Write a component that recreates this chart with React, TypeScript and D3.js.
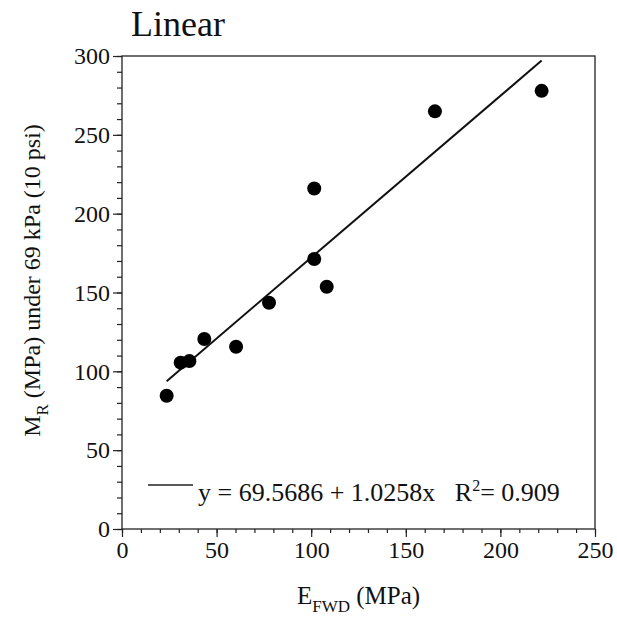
import { useRef, useEffect } from "react";
import * as d3 from "d3";

// E_FWD (MPa) and M_R (MPa)
const eFwd = [23.6, 31.0, 35.6, 43.5, 60.3, 77.7, 101.6, 101.6, 108.2, 165.4, 221.8];
const mR = [84.5, 105.5, 106.5, 120.5, 115.6, 143.5, 216.0, 171.2, 153.6, 264.9, 277.9];

const xTicks = [0, 50, 100, 150, 200, 250];
const yTicks = [0, 50, 100, 150, 200, 250, 300];

const intercept = 69.5686;
const slope = 1.0258;
const r2 = "0.909";

const FONT = "'Liberation Serif', 'Times New Roman', serif";

export default function App() {
  const svgRef = useRef<SVGSVGElement>(null);

  useEffect(() => {
    const width = 617;
    const height = 620;
    const margin = { top: 56, right: 22, bottom: 91, left: 122 };

    const svg = d3.select(svgRef.current)
      .attr("width", width).attr("height", height)
      .attr("font-family", FONT);
    svg.selectAll("*").remove();

    const x = d3.scaleLinear().domain([0, 250]).range([margin.left, width - margin.right]);
    const y = d3.scaleLinear().domain([0, 300]).range([height - margin.bottom, margin.top]);

    // rama
    svg.append("rect")
      .attr("x", x(0)).attr("y", y(300))
      .attr("width", x(250) - x(0)).attr("height", y(0) - y(300))
      .attr("fill", "none").attr("stroke", "#222").attr("stroke-width", 1.3);

    // pienet tikit
    svg.append("g")
      .attr("transform", `translate(0,${y(0)})`)
      .call(d3.axisBottom(x).tickValues(d3.range(0, 251, 10)).tickSize(4).tickFormat(() => ""))
      .call(g => g.select(".domain").remove())
      .call(g => g.selectAll(".tick line").attr("stroke", "#222").attr("stroke-width", 1.2));

    svg.append("g")
      .attr("transform", `translate(${x(0)},0)`)
      .call(d3.axisLeft(y).tickValues(d3.range(0, 301, 10)).tickSize(5).tickFormat(() => ""))
      .call(g => g.select(".domain").remove())
      .call(g => g.selectAll(".tick line").attr("stroke", "#222").attr("stroke-width", 1.2));

    // x-akseli
    svg.append("g")
      .attr("transform", `translate(0,${y(0)})`)
      .call(d3.axisBottom(x).tickValues(xTicks).tickSize(8).tickPadding(4))
      .attr("font-family", null)
      .attr("font-size", null)
      .call(g => g.select(".domain").remove())
      .call(g => g.selectAll(".tick line").attr("stroke", "#222").attr("stroke-width", 1.2))
      .selectAll("text")
        .attr("fill", "#111")
        .style("font-size", "24px");

    // y-akseli
    svg.append("g")
      .attr("transform", `translate(${x(0)},0)`)
      .call(d3.axisLeft(y).tickValues(yTicks).tickSize(9).tickPadding(3))
      .attr("font-family", null)
      .attr("font-size", null)
      .call(g => g.select(".domain").remove())
      .call(g => g.selectAll(".tick line").attr("stroke", "#222").attr("stroke-width", 1.2))
      .selectAll("text")
        .attr("fill", "#111")
        .style("font-size", "24px");

    // regressiosuora
    const [xMin, xMax] = d3.extent(eFwd) as [number, number];
    svg.append("path")
      .datum([xMin, xMax])
      .attr("d", d3.line<number>().x(d => x(d)).y(d => y(intercept + slope * d)))
      .attr("fill", "none")
      .attr("stroke", "#111")
      .attr("stroke-width", 2);

    // pisteet
    svg.append("g")
      .selectAll("circle")
      .data(eFwd)
      .join("circle")
        .attr("cx", d => x(d))
        .attr("cy", (d, i) => y(mR[i]))
        .attr("r", 7)
        .attr("fill", "#000");

    // selite
    svg.append("line")
      .attr("x1", 148).attr("x2", 193)
      .attr("y1", 485).attr("y2", 485)
      .attr("stroke", "#222").attr("stroke-width", 1.5);

    const leg = svg.append("text")
      .attr("x", 198).attr("y", 501)
      .attr("fill", "#111")
      .style("font-size", "26px")
      .attr("xml:space", "preserve");
    leg.append("tspan").text(`y = ${intercept} + ${slope}x   R`);
    leg.append("tspan").attr("dy", -10).style("font-size", "16px").text("2");
    leg.append("tspan").attr("dy", 10).text(`= ${r2}`);

    // otsikko
    svg.append("text")
      .attr("x", 131).attr("y", 36)
      .attr("fill", "#111")
      .style("font-size", "36px")
      .text("Linear");

    // x-akselin nimi
    const xl = svg.append("text")
      .attr("x", (x(0) + x(250)) / 2).attr("y", 604)
      .attr("text-anchor", "middle")
      .attr("fill", "#111")
      .style("font-size", "25px");
    xl.append("tspan").text("E");
    xl.append("tspan").attr("dy", 8).style("font-size", "17px").text("FWD");
    xl.append("tspan").attr("dy", -8).text(" (MPa)");

    // y-akselin nimi
    const yl = svg.append("text")
      .attr("transform", `translate(40,${(y(0) + y(300)) / 2 - 12}) rotate(-90)`)
      .attr("text-anchor", "middle")
      .attr("fill", "#111")
      .style("font-size", "24px");
    yl.append("tspan").text("M");
    yl.append("tspan").attr("dy", 8).style("font-size", "17px").text("R");
    yl.append("tspan").attr("dy", -8).text(" (MPa) under 69 kPa (10 psi)");
  }, []);

  return <svg ref={svgRef} style={{ position: "absolute", left: 0, top: 0, background: "#fff" }}></svg>;
}
